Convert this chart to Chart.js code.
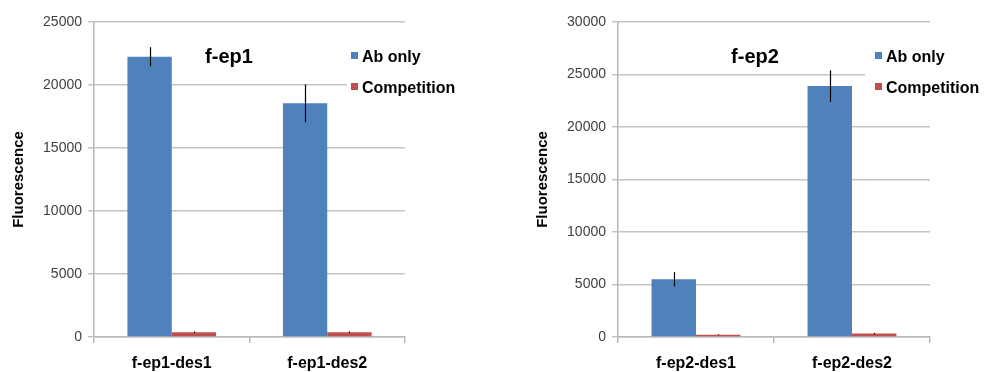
<!DOCTYPE html>
<html>
<head>
<meta charset="utf-8">
<script src="https://cdn.jsdelivr.net/npm/chart.js@4"></script>
<style>
 body{margin:0;background:#fff;width:985px;height:372px;position:relative;overflow:hidden;}
 .box{position:absolute;top:0;height:372px;}
</style>
</head>
<body>
<div class="box" style="left:0;width:490px"><canvas id="c1" width="490" height="372"></canvas></div>
<div class="box" style="left:524px;width:461px"><canvas id="c2" width="461" height="372"></canvas></div>
<script>
// left chart data
const cats1=['f-ep1-des1','f-ep1-des2'];
const ab1=[22250,18550];
const ab1Err=[750,1500];
const comp1=[375,375];
const comp1Err=[60,60];

// right chart data
const cats2=['f-ep2-des1','f-ep2-des2'];
const ab2=[5500,23900];
const ab2Err=[680,1500];
const comp2=[220,330];
const comp2Err=[40,60];

const seriesNames=['Ab only','Competition'];
const colors=['#4F81BD','#C0504D'];
const FONT='"Liberation Sans", Arial, sans-serif';

// error bars, drawn from the y scale
const errPlugin={
  id:'errbars',
  afterDatasetsDraw(chart){
    const ctx=chart.ctx, y=chart.scales.y;
    ctx.save();
    ctx.strokeStyle='#000';
    ctx.lineWidth=1.2;
    chart.data.datasets.forEach((ds,i)=>{
      const meta=chart.getDatasetMeta(i);
      meta.data.forEach((bar,j)=>{
        const v=ds.data[j], e=ds.err[j];
        const x=Math.round(bar.x)+0.5;
        ctx.beginPath();
        ctx.moveTo(x,y.getPixelForValue(v+e));
        ctx.lineTo(x,y.getPixelForValue(v-e));
        ctx.stroke();
      });
    });
    ctx.restore();
  }
};

// title and legend inside the plot
const boxPlugin={
  id:'insideBox',
  afterDatasetsDraw(chart,args,o){
    const ctx=chart.ctx;
    ctx.save();
    ctx.fillStyle='#fff';
    ctx.fillRect(o.bgX,40,chart.width-o.bgX,60);
    ctx.fillStyle='#000';
    ctx.font='bold 20px '+FONT;
    ctx.textAlign='center';
    ctx.textBaseline='middle';
    ctx.fillText(o.title,o.titleX,57);
    ctx.font='bold 16px '+FONT;
    ctx.textAlign='left';
    seriesNames.forEach((n,i)=>{
      const yy=58+i*31;
      ctx.fillStyle=colors[i];
      ctx.fillRect(o.legX,yy-6,7,7);
      ctx.fillStyle='#000';
      ctx.fillText(n,o.legX+11,yy);
    });
    ctx.restore();
  }
};

function makeChart(id,cats,ab,abErr,comp,compErr,maxY,box){
  new Chart(document.getElementById(id),{
    type:'bar',
    data:{
      labels:cats,
      datasets:[
        {label:seriesNames[0],data:ab,err:abErr,backgroundColor:colors[0]},
        {label:seriesNames[1],data:comp,err:compErr,backgroundColor:colors[1]}
      ]
    },
    options:{
      responsive:false,
      animation:false,
      layout:{padding:{left:0,right:box.padRight,top:22,bottom:0}},
      datasets:{bar:{categoryPercentage:0.57,barPercentage:1.0}},
      plugins:{legend:{display:false},tooltip:{enabled:false},insideBox:box},
      scales:{
        x:{
          grid:{offset:true,drawOnChartArea:false,color:'#b8b8b8',tickLength:6,lineWidth:1.5},
          border:{color:'#b8b8b8',width:1.5},
          ticks:{color:'#000',font:{family:FONT,size:16,weight:'bold'},padding:11},
          afterFit(s){s.height=35;}
        },
        y:{
          min:0,max:maxY,
          grid:{color:'#c4c4c4',tickLength:6,lineWidth:1.5},
          border:{color:'#b8b8b8',width:1.5},
          ticks:{stepSize:5000,color:'#404040',font:{family:FONT,size:14},padding:6,callback:v=>String(v)},
          title:{display:true,text:'Fluorescence',color:'#000',font:{family:FONT,size:15,weight:'bold'},padding:{top:10,bottom:0}},
          afterFit(s){s.width=94;}
        }
      }
    },
    plugins:[errPlugin,boxPlugin]
  });
}

makeChart('c1',cats1,ab1,ab1Err,comp1,comp1Err,25000,{title:'f-ep1',titleX:229,legX:351,bgX:347,padRight:85});
makeChart('c2',cats2,ab2,ab2Err,comp2,comp2Err,30000,{title:'f-ep2',titleX:231,legX:351,bgX:341,padRight:55});
</script>
</body>
</html>
